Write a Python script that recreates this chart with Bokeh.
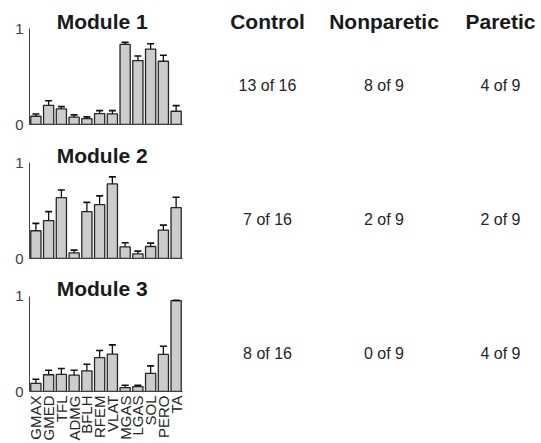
import math
from bokeh.plotting import figure
from bokeh.models import Range1d, FixedTicker, Whisker, TeeHead, ColumnDataSource
from bokeh.layouts import row, column
from bokeh.core.properties import value
from bokeh.embed import file_html
from bokeh.resources import INLINE

# ---------------- data ----------------
muscles = ["GMAX", "GMED", "TFL", "ADMG", "BFLH", "RFEM", "VLAT",
           "MGAS", "LGAS", "SOL", "PERO", "TA"]
modules = ["Module 1", "Module 2", "Module 3"]

m1_mean = [0.086, 0.200, 0.162, 0.076, 0.062, 0.114, 0.110, 0.834, 0.666, 0.786, 0.659, 0.138]
m1_sd   = [0.024, 0.048, 0.024, 0.024, 0.017, 0.031, 0.035, 0.021, 0.048, 0.055, 0.062, 0.059]

m2_mean = [0.289, 0.394, 0.634, 0.059, 0.488, 0.561, 0.777, 0.122, 0.049, 0.125, 0.296, 0.530]
m2_sd   = [0.077, 0.094, 0.080, 0.028, 0.097, 0.091, 0.073, 0.042, 0.028, 0.035, 0.052, 0.108]

m3_mean = [0.086, 0.176, 0.179, 0.172, 0.217, 0.355, 0.393, 0.041, 0.052, 0.190, 0.390, 0.955]
m3_sd   = [0.042, 0.048, 0.062, 0.052, 0.069, 0.076, 0.097, 0.025, 0.014, 0.079, 0.086, 0.003]

groups = ["Control", "Nonparetic", "Paretic"]
control_counts    = ["13 of 16", "7 of 16", "8 of 16"]
nonparetic_counts = ["8 of 9", "2 of 9", "0 of 9"]
paretic_counts    = ["4 of 9", "2 of 9", "4 of 9"]

# ---------------- styling / layout constants ----------------
FONT_NAME = "Liberation Sans"
FONT = value(FONT_NAME)
UNIT = 96.0          # pixels per 1.0 of y
FRAME_H = 115
LEFT_W = 193
TITLE_X = 6.2
TITLE_Y = 1.078
BAR_FILL = "#cccccc"
EDGE = "#262626"


def module_fig(title, mean, sd, height, top_border, bottom_border, show_labels):
    n = len(muscles)
    xs = list(range(1, n + 1))
    p = figure(width=LEFT_W, height=height, output_backend="svg", toolbar_location=None,
               x_range=Range1d(0.5, n + 0.5), y_range=Range1d(0, FRAME_H / UNIT),
               min_border_left=29, min_border_right=11,
               min_border_top=top_border, min_border_bottom=bottom_border)
    p.outline_line_color = None
    p.grid.visible = False
    p.background_fill_color = "white"
    p.border_fill_color = "white"

    src = ColumnDataSource(dict(x=xs, top=mean,
                                upper=[m + s for m, s in zip(mean, sd)],
                                name=muscles))
    p.vbar(x="x", top="top", width=0.8, source=src,
           fill_color=BAR_FILL, line_color=EDGE, line_width=1.3)
    w = Whisker(source=src, base="x", lower="top", upper="upper", dimension="height",
                line_color="#111111", line_width=1.3, level="overlay",
                upper_head=TeeHead(size=7, line_color="#111111", line_width=1.6),
                lower_head=None)
    p.add_layout(w)

    p.text(x=[TITLE_X], y=[TITLE_Y], text=[title], text_font=FONT, text_font_style="bold",
           text_font_size="21px", text_align="center", text_baseline="middle",
           text_color="#1a1a1a")

    ya = p.yaxis[0]
    ya.ticker = FixedTicker(ticks=[0, 1])
    ya.bounds = (0, 1)
    ya.major_tick_line_color = None
    ya.minor_tick_line_color = None
    ya.major_tick_out = 0
    ya.major_tick_in = 0
    ya.axis_line_color = "#404040"
    ya.axis_line_width = 1
    ya.major_label_text_font = FONT_NAME
    ya.major_label_text_font_size = "15px"
    ya.major_label_text_color = "#404040"
    ya.major_label_standoff = 6

    xa = p.xaxis[0]
    xa.major_tick_line_color = None
    xa.minor_tick_line_color = None
    xa.major_tick_out = 0
    xa.major_tick_in = 0
    xa.axis_line_color = "#404040"
    xa.axis_line_width = 1
    if show_labels:
        xa.ticker = FixedTicker(ticks=xs)
        xa.major_label_overrides = {x: m for x, m in zip(xs, muscles)}
        xa.major_label_orientation = math.pi / 2
        xa.major_label_text_font = FONT_NAME
        xa.major_label_text_font_size = "15px"
        xa.major_label_text_color = "#262626"
        xa.major_label_standoff = 4
    else:
        xa.ticker = FixedTicker(ticks=[])
    return p


f1 = module_fig(modules[0], m1_mean, m1_sd, 134, 9, 10, False)
f2 = module_fig(modules[1], m2_mean, m2_sd, 134, 9, 10, False)
f3 = module_fig(modules[2], m3_mean, m3_sd, 175, 9, 51, True)

# ---------------- text table on the right ----------------
ROW_PX = 134.0
COL_PX = 116.5
ROW0_MID = 85.0
RIGHT_W = 348
TOTAL_H = 443
t = figure(width=RIGHT_W, height=TOTAL_H, output_backend="svg", toolbar_location=None,
           x_range=Range1d(-74 / COL_PX, (RIGHT_W - 74) / COL_PX),
           y_range=Range1d((TOTAL_H - ROW0_MID) / ROW_PX, -ROW0_MID / ROW_PX),
           x_axis_type=None, y_axis_type=None, min_border=0)
t.outline_line_color = None
t.grid.visible = False

HEADER_ROW = (20.5 - ROW0_MID) / ROW_PX
t.text(x=list(range(len(groups))), y=[HEADER_ROW] * len(groups), text=groups,
       text_font=FONT, text_font_style="bold", text_font_size="21px",
       text_align="center", text_baseline="middle", text_color="#1a1a1a")

for gi, counts in enumerate([control_counts, nonparetic_counts, paretic_counts]):
    t.text(x=[gi] * len(counts), y=list(range(len(counts))), text=counts,
           text_font=FONT, text_font_size="16px", text_align="center",
           text_baseline="middle", text_color="#262626")

layout = row(column(f1, f2, f3), t)
open("out.html", "w").write(file_html(layout, INLINE))
